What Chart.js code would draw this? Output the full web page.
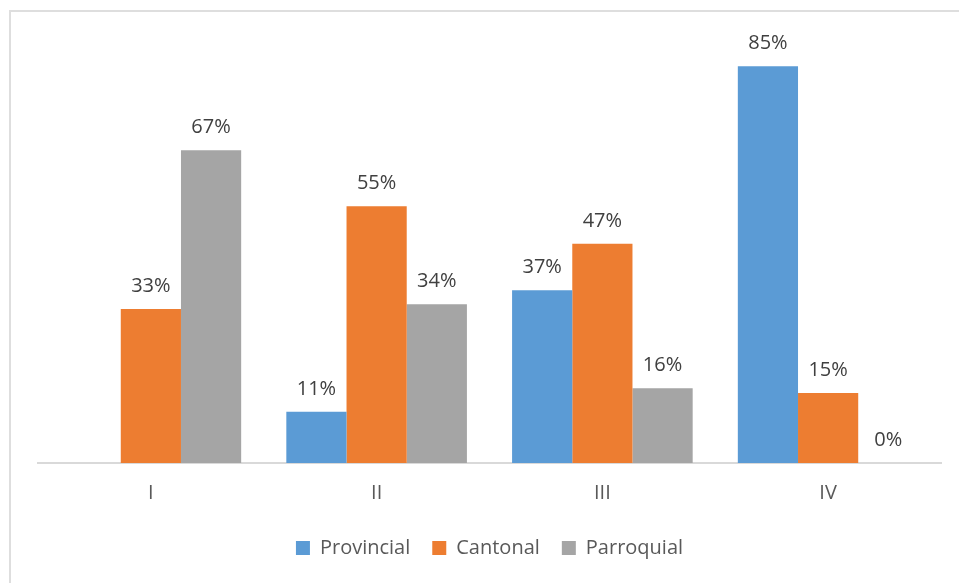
<!DOCTYPE html>
<html>
<head>
<meta charset="utf-8">
<script src="https://cdn.jsdelivr.net/npm/chart.js@4"></script>
<style>
    html, body { margin: 0; padding: 0; background: #fff; overflow: hidden; }
    #wrap { position: relative; width: 959px; height: 583px; overflow: hidden; }
    #frame {
        position: absolute; left: 9px; top: 10px; width: 960px; height: 590px;
        border-top: 2px solid #dedede; border-left: 2px solid #dedede;
    }
    canvas { position: absolute; left: 0; top: 0; }
</style>
</head>
<body>
<div id="wrap">
    <div id="frame"></div>
    <canvas id="chart" width="959" height="583"></canvas>
</div>
<script>
const categories = ['I', 'II', 'III', 'IV'];
const provincial = [null, 11, 37, 85];
const cantonal = [33, 55, 47, 15];
const parroquial = [67, 34, 16, 0];

const FONT = '"Open Sans", sans-serif';

// percent labels on top of each bar
const barLabels = {
    id: 'barLabels',
    afterDatasetsDraw(chart) {
        const ctx = chart.ctx;
        ctx.save();
        ctx.font = '20px ' + FONT;
        ctx.fillStyle = '#404040';
        ctx.textAlign = 'center';
        ctx.textBaseline = 'alphabetic';
        chart.data.datasets.forEach((ds, i) => {
            chart.getDatasetMeta(i).data.forEach((bar, j) => {
                const v = ds.data[j];
                if (v === null || v === undefined) return;
                ctx.fillText(v + '%', bar.x, bar.y - 17);
            });
        });
        ctx.restore();
    }
};

new Chart(document.getElementById('chart'), {
    type: 'bar',
    data: {
        labels: categories,
        datasets: [
            { label: 'Provincial', data: provincial, backgroundColor: '#5b9bd5' },
            { label: 'Cantonal', data: cantonal, backgroundColor: '#ed7d31' },
            { label: 'Parroquial', data: parroquial, backgroundColor: '#a5a5a5' }
        ]
    },
    options: {
        responsive: false,
        animation: false,
        layout: { padding: { top: 43, left: 38, right: 18, bottom: 15 } },
        datasets: { bar: { categoryPercentage: 0.8, barPercentage: 1.0 } },
        scales: {
            x: {
                grid: { display: false, drawTicks: false },
                border: { display: true, color: '#d9d9d9', width: 2 },
                ticks: { color: '#595959', font: { family: FONT, size: 20 }, padding: 18 },
                afterFit(scale) { scale.height = 53; }
            },
            y: { display: false, min: 0, max: 90 }
        },
        plugins: {
            legend: {
                position: 'bottom',
                labels: {
                    boxWidth: 14, boxHeight: 14, padding: 22,
                    color: '#595959', font: { family: FONT, size: 20 }
                }
            },
            tooltip: { enabled: false }
        }
    },
    plugins: [barLabels]
});
</script>
</body>
</html>
